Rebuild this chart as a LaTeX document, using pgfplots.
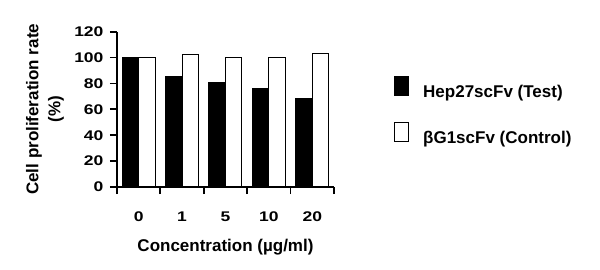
\documentclass[border=0pt]{standalone}
\usepackage{fontspec}
\setmainfont{Liberation Sans}
\usepackage{graphicx}
\usepackage{pgfplots}
\pgfplotsset{compat=1.18}
\newcommand{\tl}[1]{\scalebox{1.25}[1]{#1}}
\begin{document}
\begin{tikzpicture}
\path[use as bounding box] (-117pt,-83pt) rectangle (483pt,187pt);
\begin{axis}[
  at={(0,0)}, anchor=south west,
  scale only axis, width=217pt, height=155.3pt,
  xmin=-0.5, xmax=4.5, ymin=0, ymax=120,
  axis x line*=bottom, axis y line*=left,
  axis line style={-, line width=2pt},
  ybar=0pt, bar width=16.5pt,
  ytick={0,20,...,120},
  yticklabel={\tl{\pgfmathprintnumber{\tick}}},
  /pgf/number format/assume math mode=true,
  tick align=outside, major tick length=7pt,
  tick style={line width=1.8pt, black},
  xtick={-0.5,0.5,...,4.5}, xticklabels={},
  extra x ticks={0,1,2,3,4},
  extra x tick labels={\tl{0},\tl{1},\tl{5},\tl{10},\tl{20}},
  extra x tick style={major tick length=0pt, xticklabel style={yshift=-21pt}},
  tick label style={font=\bfseries\fontsize{14}{15}\selectfont},
  yticklabel style={xshift=-3pt},
  xlabel={Concentration (µg/ml)},
  xlabel style={at={(axis description cs:0.5,0)}, anchor=center, yshift=-60pt, font=\bfseries\fontsize{17}{20}\selectfont},
  ylabel={Cell proliferation rate\\(\%)},
  ylabel style={at={(axis description cs:0,0.5)}, anchor=center, yshift=72pt, align=center, font=\bfseries\fontsize{17}{22}\selectfont},
  legend style={at={(1.2765,0.716)}, anchor=north west, draw=none, fill=none, inner sep=0pt,
    font=\bfseries\fontsize{17}{20}\selectfont, row sep=21pt, column sep=12pt},
  legend cell align=left,
  legend image code/.code={\draw[#1, line width=1pt] (0pt,-3.4pt) rectangle (14pt,15.6pt);},
]
\addplot[fill=black, draw=black, line width=1pt] coordinates {(0,100) (1,85.5) (2,80.5) (3,76.3) (4,68.3)};
\addplot[fill=white, draw=black, line width=1pt] coordinates {(0,100) (1,102.3) (2,100) (3,100) (4,103.4)};
\legend{Hep27scFv (Test), βG1scFv (Control)}
\end{axis}
\end{tikzpicture}
\end{document}
